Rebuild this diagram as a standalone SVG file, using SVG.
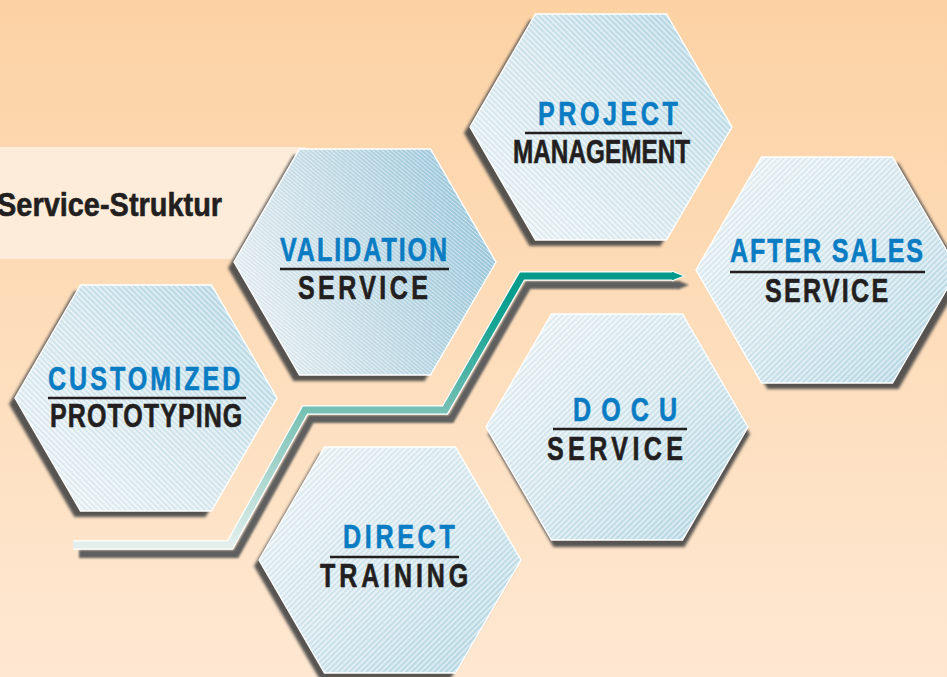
<svg xmlns="http://www.w3.org/2000/svg" xmlns:xlink="http://www.w3.org/1999/xlink" width="947" height="677" viewBox="0 0 947 677">
<style>
.shadow{fill:#444444;opacity:0.9;filter:url(#blur)}
.edge{fill:none;stroke:#ffffff;stroke-width:1.4}
.t{font-family:"Liberation Sans",Arial,sans-serif;font-weight:bold;font-size:33px;stroke-width:0.6}
.blue{fill:#0a7cc3;stroke:#0a7cc3}
.dark{fill:#231f20;stroke:#231f20}
.rule{stroke:#231f20;stroke-width:2.5}
</style>
<defs>
<linearGradient id="bg" x1="0" y1="0" x2="0" y2="1">
<stop offset="0" stop-color="#fcd2a4"/>
<stop offset="1" stop-color="#fee8d2"/>
</linearGradient>
<linearGradient id="gUR" x1="0" y1="1" x2="1" y2="0">
<stop offset="0" stop-color="#f1f6f8"/>
<stop offset="0.55" stop-color="#d6e8ef"/>
<stop offset="1" stop-color="#b3d7e5"/>
</linearGradient>
<linearGradient id="gDR" x1="0" y1="0" x2="1" y2="1">
<stop offset="0" stop-color="#f1f6f8"/>
<stop offset="0.55" stop-color="#d6e8ef"/>
<stop offset="1" stop-color="#b5d8e5"/>
</linearGradient>
<linearGradient id="gV" x1="0" y1="0.6" x2="1" y2="0.3">
<stop offset="0" stop-color="#e9f0f3"/>
<stop offset="0.5" stop-color="#c0dae5"/>
<stop offset="1" stop-color="#96c6da"/>
</linearGradient>
<pattern id="hatchF" patternUnits="userSpaceOnUse" width="4" height="4" patternTransform="rotate(45)">
<rect x="0" y="0" width="1.2" height="4" fill="#ffffff" opacity="0.55"/>
<rect x="2" y="0" width="0.8" height="4" fill="#6f9fb2" opacity="0.18"/>
</pattern>
<pattern id="hatchB" patternUnits="userSpaceOnUse" width="4" height="4" patternTransform="rotate(-45)">
<rect x="0" y="0" width="1.2" height="4" fill="#ffffff" opacity="0.55"/>
<rect x="2" y="0" width="0.8" height="4" fill="#6f9fb2" opacity="0.18"/>
</pattern>
<pattern id="hatchFine" patternUnits="userSpaceOnUse" width="3" height="3" patternTransform="rotate(-50)">
<rect x="0" y="0" width="1" height="3" fill="#ffffff" opacity="0.5"/>
<rect x="1.6" y="0" width="0.6" height="3" fill="#6f9fb2" opacity="0.2"/>
</pattern>
<linearGradient id="arrowG" gradientUnits="userSpaceOnUse" x1="0" y1="545" x2="0" y2="276">
<stop offset="0" stop-color="#e2efec"/>
<stop offset="0.5" stop-color="#76c0b4"/>
<stop offset="0.82" stop-color="#17a494"/>
<stop offset="1" stop-color="#009a8a"/>
</linearGradient>
<filter id="blur" x="-20%" y="-20%" width="140%" height="140%">
<feGaussianBlur stdDeviation="1.6"/>
</filter>
<filter id="blur1" x="-10%" y="-10%" width="120%" height="120%">
<feGaussianBlur stdDeviation="1"/>
</filter>
<polygon id="hex" points="-131,0 -65.5,-113 65.5,-113 131,0 65.5,113 -65.5,113"/>
</defs>

<rect x="0" y="0" width="947" height="677" fill="url(#bg)"/>

<g id="title">
<rect x="0" y="147" width="305" height="112" fill="#fdecd9"/>
<text class="t dark" transform="translate(-3,216) scale(0.84,1)" font-size="34" textLength="268" lengthAdjust="spacingAndGlyphs">Service-Struktur</text>
</g>

<g id="project-management">
<use xlink:href="#hex" href="#hex" class="shadow" x="595" y="133"/>
<use xlink:href="#hex" href="#hex" x="601" y="127" fill="url(#gUR)"/>
<use xlink:href="#hex" href="#hex" x="601" y="127" fill="url(#hatchB)"/>
<use xlink:href="#hex" href="#hex" x="601" y="127" class="edge"/>
<text class="t blue" transform="translate(538,125) scale(0.76,1)" textLength="184" lengthAdjust="spacing">PROJECT</text>
<line class="rule" x1="525" y1="133" x2="682" y2="133"/>
<text class="t dark" transform="translate(513,163) scale(0.76,1)" textLength="233" lengthAdjust="spacingAndGlyphs">MANAGEMENT</text>
</g>

<g id="validation-service">
<use xlink:href="#hex" href="#hex" class="shadow" x="359" y="268"/>
<use xlink:href="#hex" href="#hex" x="365" y="262" fill="url(#gV)"/>
<use xlink:href="#hex" href="#hex" x="365" y="262" fill="url(#hatchFine)"/>
<use xlink:href="#hex" href="#hex" x="365" y="262" class="edge"/>
<text class="t blue" transform="translate(280,261) scale(0.76,1)" textLength="220" lengthAdjust="spacing">VALIDATION</text>
<line class="rule" x1="280" y1="269" x2="449" y2="269"/>
<text class="t dark" transform="translate(298,299) scale(0.76,1)" textLength="171" lengthAdjust="spacing">SERVICE</text>
</g>

<g id="after-sales-service">
<use xlink:href="#hex" href="#hex" class="shadow" x="833" y="276"/>
<use xlink:href="#hex" href="#hex" x="827" y="270" fill="url(#gDR)"/>
<use xlink:href="#hex" href="#hex" x="827" y="270" fill="url(#hatchF)"/>
<use xlink:href="#hex" href="#hex" x="827" y="270" class="edge"/>
<text class="t blue" transform="translate(730,262) scale(0.76,1)" textLength="254" lengthAdjust="spacing">AFTER SALES</text>
<line class="rule" x1="730" y1="272" x2="925" y2="272"/>
<text class="t dark" transform="translate(765,302) scale(0.76,1)" textLength="162" lengthAdjust="spacing">SERVICE</text>
</g>

<g id="customized-prototyping">
<use xlink:href="#hex" href="#hex" class="shadow" x="140" y="404"/>
<use xlink:href="#hex" href="#hex" x="146" y="398" fill="url(#gUR)"/>
<use xlink:href="#hex" href="#hex" x="146" y="398" fill="url(#hatchB)"/>
<use xlink:href="#hex" href="#hex" x="146" y="398" class="edge"/>
<text class="t blue" transform="translate(48,390) scale(0.76,1)" textLength="253" lengthAdjust="spacing">CUSTOMIZED</text>
<line class="rule" x1="48" y1="398" x2="246" y2="398"/>
<text class="t dark" transform="translate(50,427) scale(0.76,1)" textLength="253" lengthAdjust="spacing">PROTOTYPING</text>
</g>

<g id="docu-service">
<use xlink:href="#hex" href="#hex" class="shadow" x="619" y="434"/>
<use xlink:href="#hex" href="#hex" x="617" y="427" fill="url(#gDR)"/>
<use xlink:href="#hex" href="#hex" x="617" y="427" fill="url(#hatchF)"/>
<use xlink:href="#hex" href="#hex" x="617" y="427" class="edge"/>
<text class="t blue" transform="translate(573,421) scale(0.76,1)" textLength="137" lengthAdjust="spacing">DOCU</text>
<line class="rule" x1="553" y1="429" x2="687" y2="429"/>
<text class="t dark" transform="translate(547,460) scale(0.76,1)" textLength="179" lengthAdjust="spacing">SERVICE</text>
</g>

<g id="direct-training">
<use xlink:href="#hex" href="#hex" class="shadow" x="385" y="566"/>
<use xlink:href="#hex" href="#hex" x="390" y="560" fill="url(#gDR)"/>
<use xlink:href="#hex" href="#hex" x="390" y="560" fill="url(#hatchF)"/>
<use xlink:href="#hex" href="#hex" x="390" y="560" class="edge"/>
<text class="t blue" transform="translate(343,548) scale(0.76,1)" textLength="147" lengthAdjust="spacing">DIRECT</text>
<line class="rule" x1="330" y1="557" x2="459" y2="557"/>
<text class="t dark" transform="translate(320,587) scale(0.76,1)" textLength="195" lengthAdjust="spacing">TRAINING</text>
</g>

<g id="connectors">
<g transform="translate(6,9)" filter="url(#blur1)">
<path d="M73,545 L230,545 L305,410 L445,410 L522,276 L674,276" fill="none" stroke="#5e5e5e" stroke-width="8" stroke-linejoin="miter"/>
<polygon points="672,271.5 683,276 672,280.5" fill="#5e5e5e"/>
</g>
<path d="M73,545 L230,545 L305,410 L445,410 L522,276 L674,276" fill="none" stroke="#ffffff" stroke-width="9.5" stroke-linejoin="miter"/>
<polygon points="672,270.5 685,276 672,281.5" fill="#ffffff"/>
<polygon points="672,271.8 683,276 672,280.2" fill="#009a8a"/>
<path d="M73,545 L230,545 L305,410 L445,410 L522,276 L674,276" fill="none" stroke="url(#arrowG)" stroke-width="7" stroke-linejoin="miter"/>
</g>
</svg>
